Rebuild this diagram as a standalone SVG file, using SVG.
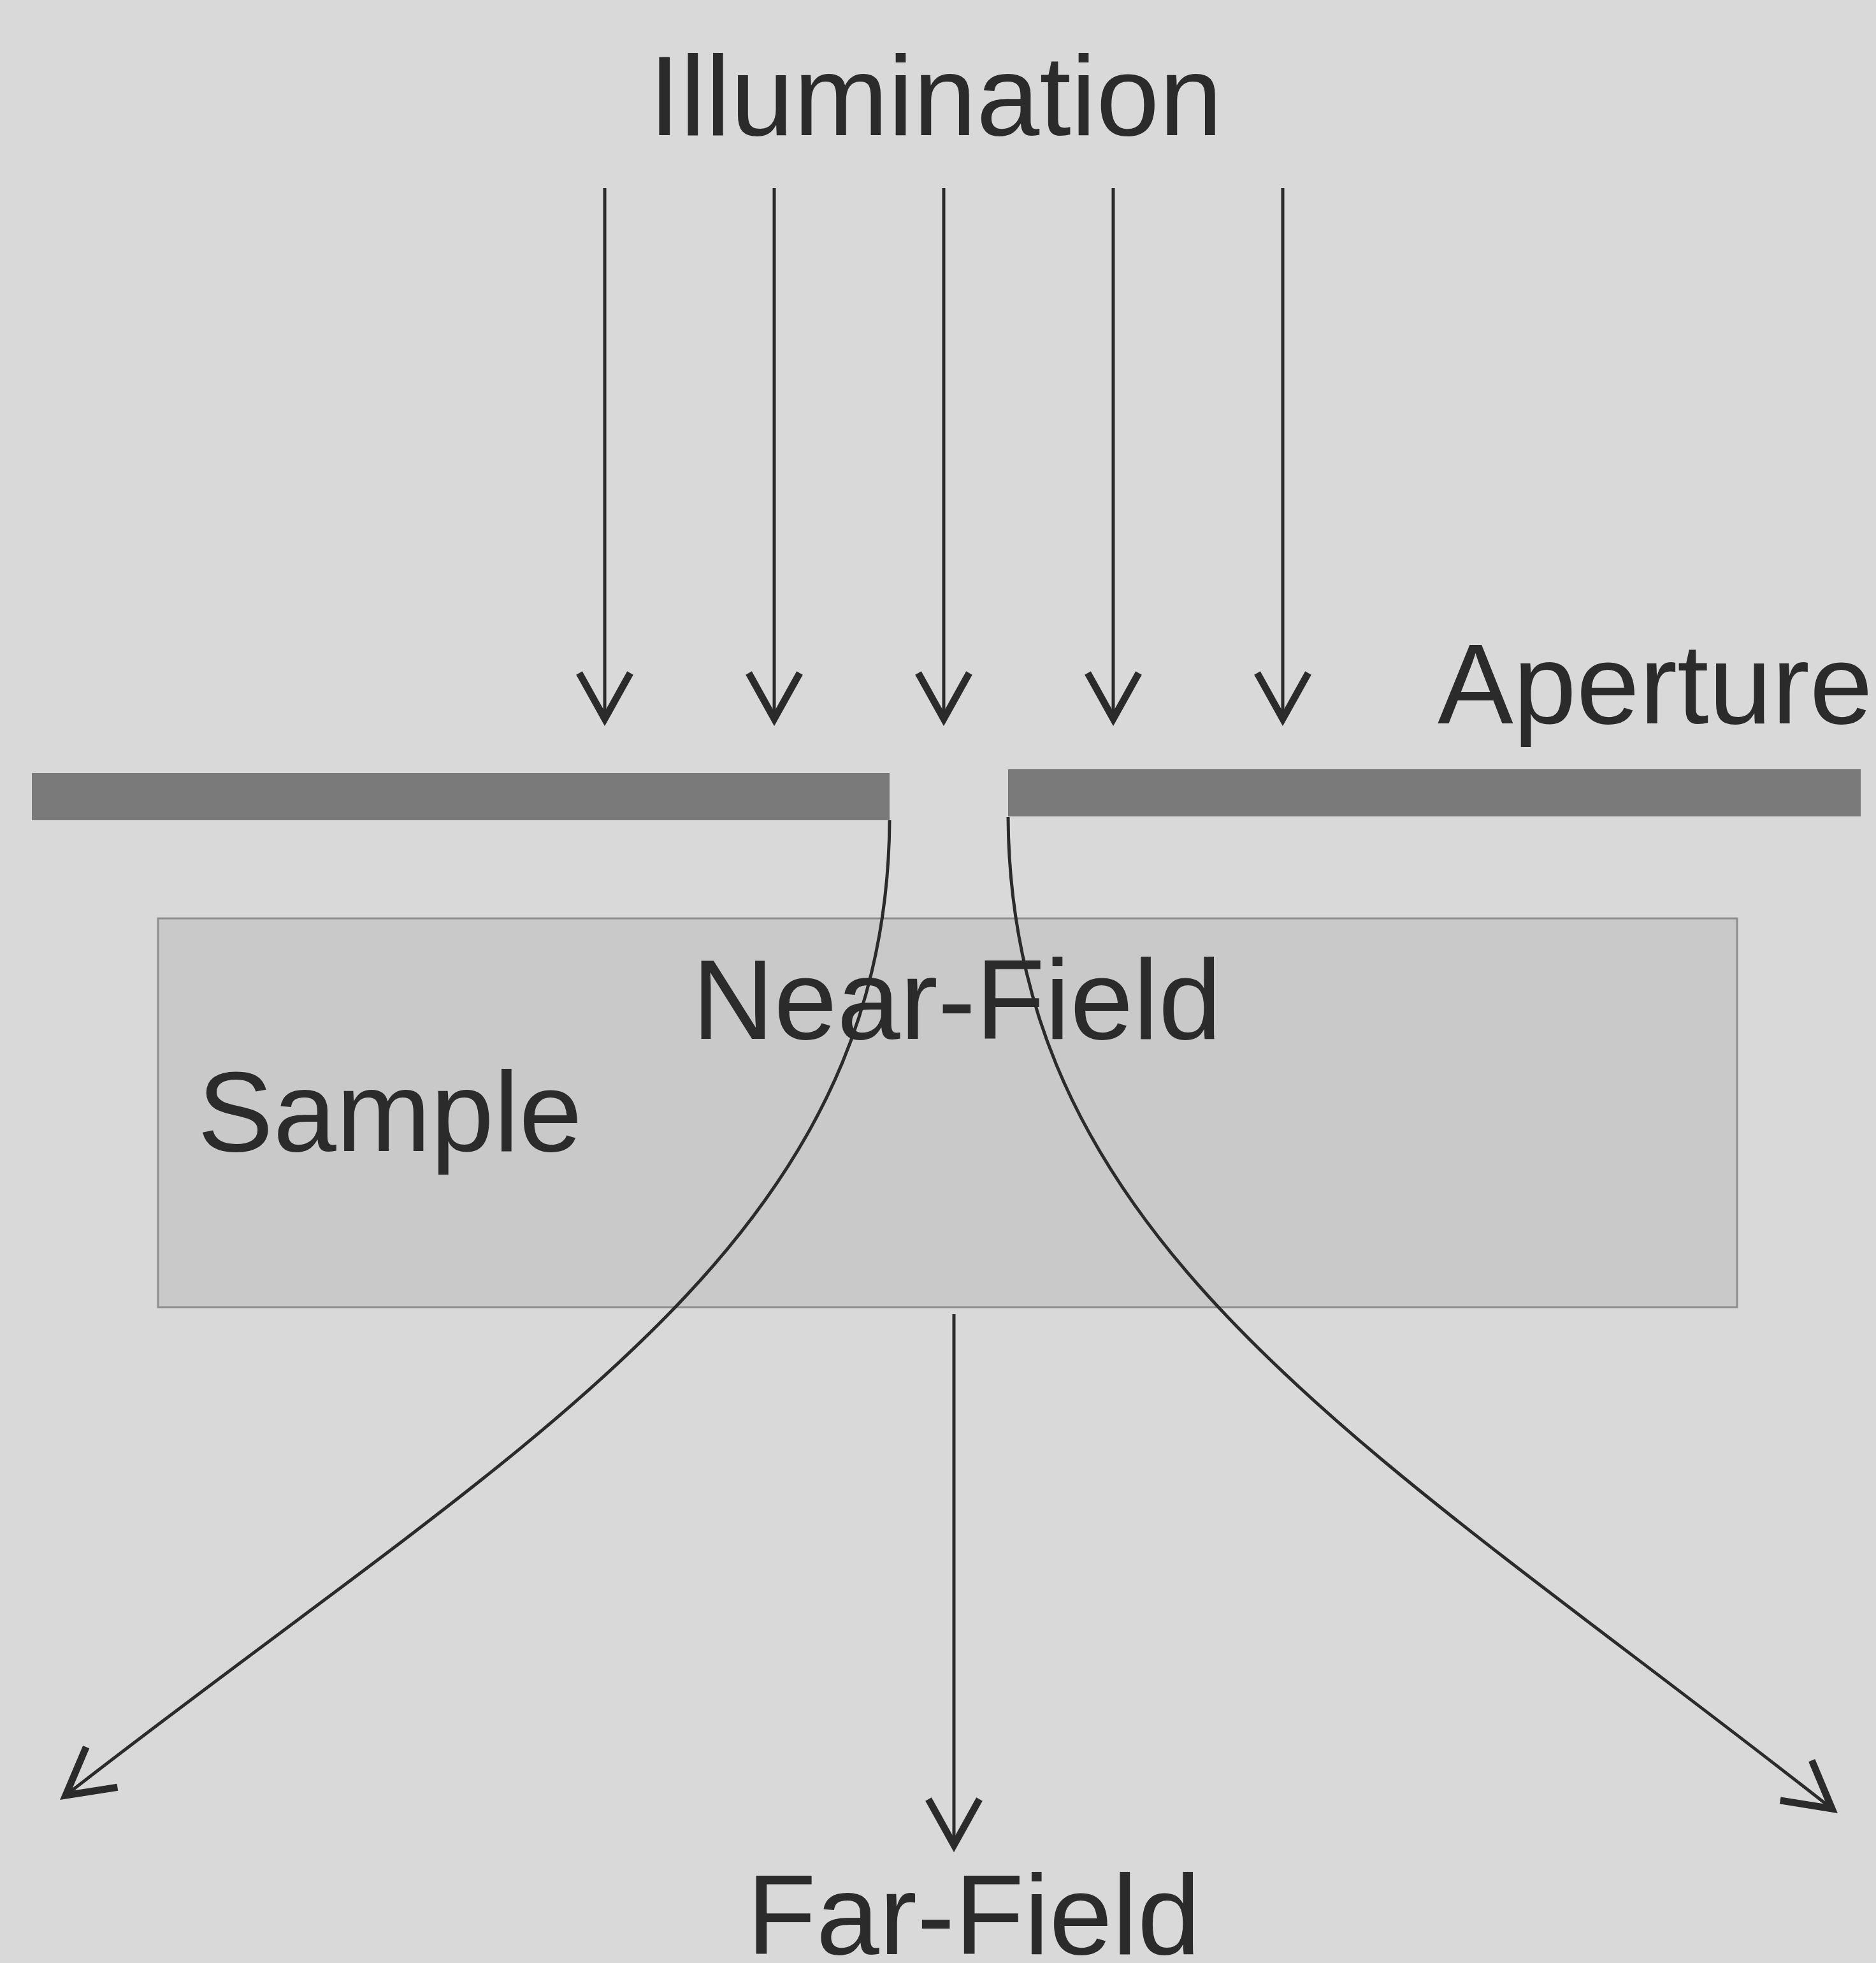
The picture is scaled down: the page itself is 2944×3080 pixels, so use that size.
<svg xmlns="http://www.w3.org/2000/svg" width="2944" height="3080" viewBox="0 0 2944 3080">
  <style>
    .lbl { font-family: "Liberation Sans", Arial, sans-serif; font-size: 178px; fill: #2b2b2b; }
    .ray { fill: none; stroke: #2b2b2b; stroke-width: 5; }
    .bar { fill: #7a7a7a; }
  </style>
  <defs>
    <marker id="head" markerUnits="userSpaceOnUse" viewBox="-100 -60 120 120" markerWidth="120" markerHeight="120" refX="0" refY="0" orient="auto" overflow="visible">
      <path d="M -72 -40 L 0 0 L -72 40" fill="none" stroke="#2b2b2b" stroke-width="11" stroke-linejoin="miter" stroke-linecap="butt"/>
    </marker>
  </defs>
  <rect width="2944" height="3080" fill="#d9d9d9"/>

  <g id="sample">
    <rect x="248" y="1441" width="2478" height="610" fill="#c9c9c9" stroke="#8e8e8e" stroke-width="3"/>
    <text class="lbl" x="310" y="1806">Sample</text>
  </g>

  <g id="aperture">
    <rect class="bar" x="50" y="1213" width="1346" height="74"/>
    <rect class="bar" x="1582" y="1207" width="1338" height="74"/>
    <text class="lbl" x="2256" y="1135">Aperture</text>
  </g>

  <g id="illumination">
    <text class="lbl" x="1018" y="212">Illumination</text>
  </g>

  <g id="near-field">
    <text class="lbl" x="1086" y="1630">Near-Field</text>
  </g>

  <g id="far-field">
    <text class="lbl" x="1172" y="3066">Far-Field</text>
  </g>

  <g id="connectors">
    <line class="ray" x1="949" y1="295" x2="949" y2="1128" marker-end="url(#head)"/>
    <line class="ray" x1="1215" y1="295" x2="1215" y2="1128" marker-end="url(#head)"/>
    <line class="ray" x1="1481" y1="295" x2="1481" y2="1128" marker-end="url(#head)"/>
    <line class="ray" x1="1747" y1="295" x2="1747" y2="1128" marker-end="url(#head)"/>
    <line class="ray" x1="2013" y1="295" x2="2013" y2="1128" marker-end="url(#head)"/>
    <line class="ray" x1="1497" y1="2062" x2="1497" y2="2895" marker-end="url(#head)"/>
    <path class="ray" d="M1396,1287 C1392,1960 815,2262 103,2817" marker-end="url(#head)"/>
    <path class="ray" d="M1582,1282 C1586,1960 2163,2277 2875,2838" marker-end="url(#head)"/>
  </g>
</svg>
